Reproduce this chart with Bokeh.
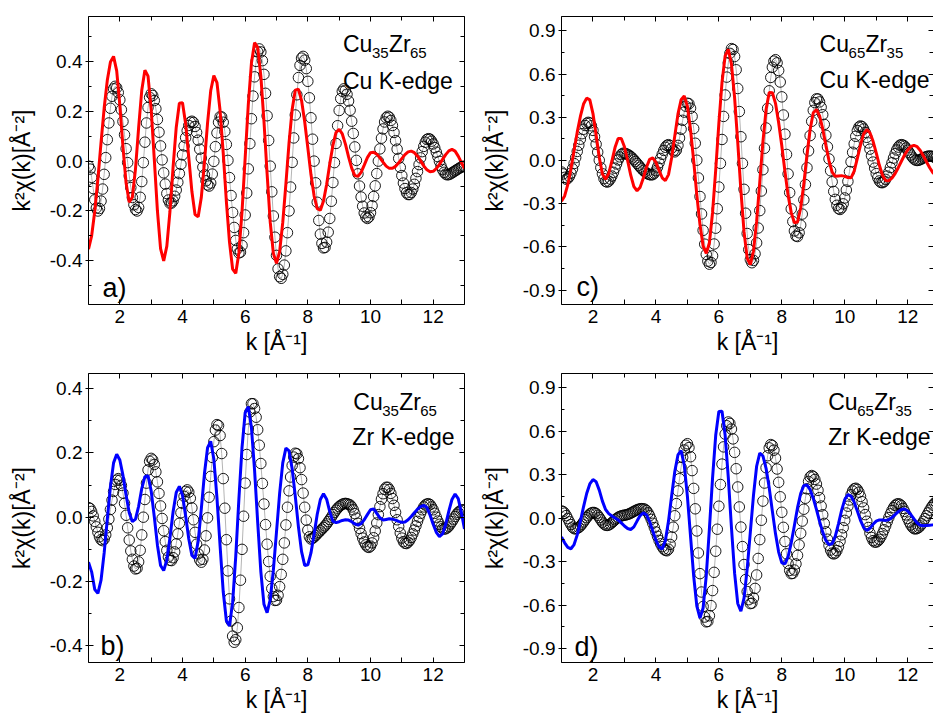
import numpy as np
from bokeh.plotting import figure
from bokeh.layouts import column, row
from bokeh.models import FixedTicker, LinearAxis, Label, Range1d, CustomJSTickFormatter
from bokeh.embed import file_html
from bokeh.resources import INLINE

FONT = "Liberation Sans"

# ---------------- data ----------------
# measured points sampled every 0.05 1/A from k = 1 to 13, fit curves every 0.1 1/A
k_circ = np.round(1.0 + 0.05 * np.arange(241), 2)
k_fit = np.round(1.0 + 0.1 * np.arange(121), 1)

a_circ = [
    -0.02, -0.032, -0.065, -0.11, -0.155, -0.188, -0.20, -0.19, -0.16, -0.112, -0.053, 0.014, 0.086, 0.153, 0.212, 0.26, 0.29, 0.30, 0.294, 0.275,
    0.246, 0.206, 0.159, 0.106, 0.05, -0.006, -0.059, -0.106, -0.146, -0.175, -0.194, -0.20, -0.186, -0.145, -0.082, -0.006, 0.076, 0.153, 0.215, 0.256,
    0.27, 0.263, 0.243, 0.21, 0.167, 0.116, 0.061, 0.005, -0.047, -0.092, -0.13, -0.156, -0.169, -0.168, -0.159, -0.141, -0.116, -0.085, -0.05, -0.013,
    0.025, 0.061, 0.094, 0.122, 0.143, 0.156, 0.16, 0.155, 0.139, 0.115, 0.084, 0.048, 0.012, -0.024, -0.055, -0.079, -0.095, -0.10, -0.088, -0.052,
    -0.001, 0.058, 0.113, 0.156, 0.178, 0.177, 0.156, 0.119, 0.067, 0.003, -0.066, -0.138, -0.206, -0.266, -0.318, -0.352, -0.368, -0.365, -0.338, -0.287,
    -0.216, -0.128, -0.031, 0.07, 0.17, 0.261, 0.338, 0.40, 0.438, 0.45, 0.438, 0.403, 0.348, 0.272, 0.182, 0.083, -0.02, -0.123, -0.22, -0.305,
    -0.378, -0.432, -0.463, -0.47, -0.454, -0.417, -0.36, -0.287, -0.20, -0.104, -0.005, 0.093, 0.185, 0.266, 0.335, 0.384, 0.413, 0.42, 0.405, 0.371,
    0.32, 0.254, 0.174, 0.088, 0.0, -0.087, -0.165, -0.238, -0.293, -0.33, -0.348, -0.346, -0.325, -0.285, -0.23, -0.161, -0.086, -0.006, 0.071, 0.142,
    0.203, 0.251, 0.28, 0.29, 0.284, 0.268, 0.241, 0.204, 0.16, 0.111, 0.057, 0.003, -0.051, -0.10, -0.144, -0.181, -0.208, -0.224, -0.23, -0.224,
    -0.207, -0.179, -0.142, -0.099, -0.05, 0.0, 0.049, 0.092, 0.129, 0.157, 0.174, 0.18, 0.176, 0.163, 0.143, 0.115, 0.082, 0.048, 0.011, -0.025,
    -0.058, -0.088, -0.11, -0.127, -0.134, -0.134, -0.126, -0.112, -0.093, -0.069, -0.042, -0.014, 0.013, 0.038, 0.059, 0.076, 0.087, 0.09, 0.088, 0.08,
    0.069, 0.054, 0.036, 0.018, -0.001, -0.019, -0.034, -0.045, -0.052, -0.055, -0.054, -0.051, -0.047, -0.043, -0.039, -0.035, -0.031, -0.027, -0.024, -0.022,
    -0.02,
]
a_fit = [
    -0.353, -0.30, -0.201, -0.071, 0.074, 0.213, 0.324, 0.398, 0.42, 0.362,
    0.225, 0.057, -0.088, -0.165, -0.145, -0.031, 0.134, 0.284, 0.365, 0.341,
    0.208, 0.007, -0.20, -0.351, -0.40, -0.341, -0.201, -0.023, 0.135, 0.232,
    0.234, 0.15, 0.015, -0.122, -0.214, -0.223, -0.146, -0.006, 0.153, 0.282,
    0.343, 0.315, 0.202, 0.032, -0.161, -0.325, -0.433, -0.45, -0.368, -0.202,
    0.013, 0.227, 0.393, 0.475, 0.456, 0.342, 0.16, -0.05, -0.245, -0.37,
    -0.41, -0.363, -0.246, -0.091, 0.073, 0.207, 0.285, 0.289, 0.243, 0.158,
    0.053, -0.054, -0.139, -0.191, -0.197, -0.16, -0.094, -0.011, 0.063, 0.115,
    0.128, 0.109, 0.068, 0.017, -0.028, -0.058, -0.061, -0.045, -0.016, 0.014,
    0.034, 0.036, 0.028, 0.013, -0.004, -0.02, -0.029, -0.029, -0.021, -0.007,
    0.01, 0.026, 0.037, 0.04, 0.034, 0.02, 0.001, -0.019, -0.035, -0.043,
    -0.041, -0.03, -0.013, 0.007, 0.026, 0.041, 0.047, 0.04, 0.02, -0.005,
    -0.03,
]

c_circ = [
    -0.08, -0.093, -0.117, -0.13, -0.125, -0.111, -0.088, -0.058, -0.021, 0.02, 0.063, 0.106, 0.148, 0.186, 0.217, 0.243, 0.258, 0.265, 0.26, 0.241,
    0.209, 0.165, 0.113, 0.058, 0.002, -0.05, -0.092, -0.126, -0.145, -0.15, -0.144, -0.129, -0.108, -0.082, -0.053, -0.024, 0.004, 0.025, 0.042, 0.05,
    0.05, 0.047, 0.042, 0.036, 0.027, 0.017, 0.005, -0.007, -0.02, -0.033, -0.046, -0.058, -0.069, -0.079, -0.087, -0.094, -0.098, -0.10, -0.098, -0.088,
    -0.071, -0.046, -0.016, 0.014, 0.043, 0.07, 0.092, 0.105, 0.11, 0.103, 0.085, 0.067, 0.06, 0.072, 0.105, 0.156, 0.217, 0.279, 0.336, 0.377,
    0.398, 0.394, 0.363, 0.306, 0.222, 0.12, 0.002, -0.121, -0.25, -0.371, -0.485, -0.581, -0.652, -0.699, -0.72, -0.708, -0.662, -0.58, -0.47, -0.335,
    -0.184, -0.02, 0.146, 0.306, 0.455, 0.579, 0.678, 0.744, 0.777, 0.771, 0.722, 0.63, 0.50, 0.34, 0.165, -0.02, -0.20, -0.366, -0.507, -0.619,
    -0.688, -0.71, -0.694, -0.648, -0.572, -0.469, -0.348, -0.212, -0.064, 0.085, 0.226, 0.362, 0.484, 0.577, 0.648, 0.69, 0.70, 0.678, 0.625, 0.545,
    0.442, 0.316, 0.183, 0.042, -0.093, -0.223, -0.336, -0.424, -0.489, -0.524, -0.528, -0.502, -0.449, -0.372, -0.273, -0.167, -0.05, 0.067, 0.173, 0.272,
    0.348, 0.402, 0.428, 0.427, 0.407, 0.37, 0.318, 0.251, 0.175, 0.095, 0.011, -0.071, -0.148, -0.215, -0.27, -0.311, -0.334, -0.34, -0.328, -0.301,
    -0.26, -0.205, -0.145, -0.077, -0.009, 0.057, 0.116, 0.168, 0.208, 0.232, 0.24, 0.235, 0.219, 0.195, 0.161, 0.122, 0.079, 0.033, -0.011, -0.053,
    -0.091, -0.12, -0.142, -0.153, -0.154, -0.147, -0.131, -0.108, -0.081, -0.049, -0.016, 0.017, 0.047, 0.073, 0.093, 0.106, 0.11, 0.107, 0.10, 0.087,
    0.072, 0.055, 0.038, 0.023, 0.01, 0.003, 0.0, 0.002, 0.006, 0.012, 0.018, 0.023, 0.027, 0.03, 0.031, 0.03, 0.027, 0.022, 0.016, 0.01,
    0.005,
]
c_fit = [
    -0.283, -0.246, -0.168, -0.057, 0.07, 0.197, 0.306, 0.392, 0.433, 0.421,
    0.326, 0.177, 0.021, -0.093, -0.13, -0.091, -0.005, 0.09, 0.152, 0.153,
    0.095, 0.001, -0.102, -0.181, -0.21, -0.185, -0.121, -0.047, 0.008, 0.018,
    -0.013, -0.069, -0.12, -0.14, -0.098, 0.019, 0.171, 0.322, 0.422, 0.448,
    0.377, 0.215, -0.002, -0.24, -0.445, -0.594, -0.645, -0.571, -0.361, -0.066,
    0.258, 0.543, 0.727, 0.772, 0.67, 0.436, 0.126, -0.207, -0.496, -0.677,
    -0.723, -0.63, -0.423, -0.15, 0.129, 0.354, 0.472, 0.471, 0.397, 0.262,
    0.102, -0.076, -0.242, -0.362, -0.432, -0.427, -0.33, -0.162, 0.04, 0.215,
    0.332, 0.354, 0.31, 0.219, 0.106, -0.002, -0.081, -0.11, -0.107, -0.105,
    -0.11, -0.118, -0.12, -0.073, 0.014, 0.107, 0.185, 0.214, 0.193, 0.133,
    0.053, -0.033, -0.102, -0.139, -0.14, -0.122, -0.091, -0.05, -0.005, 0.038,
    0.073, 0.097, 0.105, 0.096, 0.07, 0.032, -0.01, -0.05, -0.085, -0.1,
    -0.11,
]

b_circ = [
    0.03, 0.027, 0.018, 0.004, -0.013, -0.03, -0.047, -0.061, -0.07, -0.073, -0.068, -0.055, -0.033, -0.006, 0.024, 0.053, 0.08, 0.102, 0.115, 0.12,
    0.115, 0.099, 0.075, 0.043, 0.006, -0.033, -0.071, -0.105, -0.131, -0.152, -0.161, -0.159, -0.139, -0.103, -0.055, 0.0, 0.055, 0.106, 0.147, 0.174,
    0.183, 0.178, 0.164, 0.141, 0.11, 0.074, 0.035, -0.004, -0.042, -0.076, -0.103, -0.124, -0.134, -0.135, -0.126, -0.108, -0.083, -0.052, -0.019, 0.014,
    0.043, 0.065, 0.08, 0.085, 0.078, 0.059, 0.029, -0.008, -0.047, -0.084, -0.114, -0.133, -0.14, -0.131, -0.102, -0.058, -0.002, 0.062, 0.127, 0.186,
    0.235, 0.271, 0.288, 0.285, 0.254, 0.198, 0.12, 0.028, -0.07, -0.167, -0.254, -0.323, -0.37, -0.389, -0.381, -0.344, -0.281, -0.196, -0.10, 0.003,
    0.106, 0.195, 0.274, 0.327, 0.353, 0.353, 0.338, 0.311, 0.272, 0.224, 0.167, 0.105, 0.041, -0.023, -0.084, -0.138, -0.184, -0.222, -0.247, -0.259,
    -0.258, -0.243, -0.216, -0.178, -0.131, -0.08, -0.024, 0.031, 0.082, 0.125, 0.161, 0.187, 0.199, 0.197, 0.182, 0.154, 0.117, 0.075, 0.031, -0.009,
    -0.04, -0.061, -0.068, -0.066, -0.062, -0.057, -0.052, -0.047, -0.042, -0.037, -0.032, -0.027, -0.021, -0.014, -0.007, 0.0, 0.008, 0.015, 0.022, 0.028,
    0.033, 0.037, 0.04, 0.042, 0.043, 0.042, 0.04, 0.038, 0.032, 0.023, 0.011, -0.003, -0.019, -0.035, -0.051, -0.065, -0.077, -0.086, -0.092, -0.094,
    -0.09, -0.08, -0.064, -0.043, -0.018, 0.008, 0.033, 0.056, 0.073, 0.087, 0.093, 0.093, 0.086, 0.074, 0.058, 0.037, 0.015, -0.008, -0.029, -0.049,
    -0.065, -0.076, -0.081, -0.082, -0.078, -0.072, -0.063, -0.052, -0.04, -0.027, -0.013, 0.0, 0.012, 0.023, 0.032, 0.038, 0.041, 0.042, 0.039, 0.032,
    0.023, 0.012, 0.0, -0.012, -0.022, -0.03, -0.035, -0.037, -0.036, -0.033, -0.028, -0.021, -0.014, -0.006, 0.002, 0.009, 0.015, 0.019, 0.022, 0.023,
    0.022,
]
b_fit = [
    -0.14, -0.17, -0.225, -0.237, -0.196, -0.111, -0.006, 0.095, 0.169, 0.196,
    0.178, 0.13, 0.068, 0.014, -0.014, -0.006, 0.034, 0.089, 0.126, 0.129,
    0.082, 0.001, -0.087, -0.15, -0.166, -0.133, -0.064, 0.017, 0.077, 0.096,
    0.068, 0.004, -0.067, -0.119, -0.128, -0.075, 0.025, 0.135, 0.216, 0.236,
    0.181, 0.06, -0.09, -0.232, -0.322, -0.338, -0.265, -0.121, 0.057, 0.217,
    0.325, 0.344, 0.279, 0.146, -0.016, -0.169, -0.271, -0.297, -0.256, -0.165,
    -0.046, 0.074, 0.169, 0.215, 0.206, 0.151, 0.065, -0.03, -0.107, -0.15,
    -0.148, -0.111, -0.053, 0.009, 0.055, 0.073, 0.056, 0.017, -0.013, -0.017,
    -0.014, -0.01, -0.008, -0.009, -0.014, -0.021, -0.025, -0.02, -0.008, 0.008,
    0.023, 0.026, 0.012, -0.002, -0.009, -0.007, -0.005, -0.006, -0.009, -0.013,
    -0.016, -0.015, -0.008, 0.002, 0.014, 0.025, 0.033, 0.037, 0.03, 0.007,
    -0.022, -0.047, -0.06, -0.052, -0.022, 0.019, 0.055, 0.072, 0.058, 0.015,
    -0.037,
]

d_circ = [
    0.05, 0.046, 0.035, 0.018, -0.003, -0.025, -0.044, -0.062, -0.072, -0.074, -0.071, -0.064, -0.054, -0.041, -0.026, -0.011, 0.004, 0.017, 0.029, 0.036,
    0.04, 0.039, 0.032, 0.02, 0.005, -0.012, -0.028, -0.04, -0.048, -0.05, -0.047, -0.04, -0.031, -0.021, -0.011, -0.002, 0.006, 0.012, 0.016, 0.019,
    0.021, 0.023, 0.026, 0.03, 0.035, 0.041, 0.047, 0.053, 0.058, 0.062, 0.065, 0.066, 0.065, 0.062, 0.053, 0.037, 0.017, -0.008, -0.035, -0.065,
    -0.095, -0.125, -0.153, -0.177, -0.197, -0.213, -0.222, -0.225, -0.214, -0.181, -0.13, -0.062, 0.017, 0.101, 0.189, 0.273, 0.352, 0.42, 0.471, 0.504,
    0.515, 0.488, 0.425, 0.329, 0.206, 0.065, -0.088, -0.24, -0.383, -0.51, -0.61, -0.683, -0.716, -0.713, -0.674, -0.604, -0.50, -0.374, -0.228, -0.076,
    0.083, 0.233, 0.374, 0.493, 0.581, 0.639, 0.665, 0.655, 0.616, 0.548, 0.455, 0.342, 0.216, 0.078, -0.061, -0.196, -0.32, -0.424, -0.507, -0.563,
    -0.59, -0.587, -0.551, -0.485, -0.392, -0.278, -0.148, -0.014, 0.118, 0.243, 0.349, 0.432, 0.486, 0.509, 0.502, 0.47, 0.415, 0.34, 0.248, 0.148,
    0.041, -0.063, -0.161, -0.246, -0.314, -0.361, -0.383, -0.381, -0.358, -0.316, -0.257, -0.184, -0.104, -0.02, 0.062, 0.138, 0.203, 0.254, 0.285, 0.295,
    0.288, 0.268, 0.236, 0.193, 0.142, 0.084, 0.024, -0.036, -0.094, -0.145, -0.188, -0.22, -0.241, -0.247, -0.241, -0.224, -0.197, -0.159, -0.115, -0.066,
    -0.015, 0.036, 0.083, 0.126, 0.162, 0.188, 0.203, 0.207, 0.199, 0.18, 0.151, 0.114, 0.071, 0.025, -0.021, -0.064, -0.103, -0.133, -0.155, -0.165,
    -0.165, -0.158, -0.146, -0.128, -0.106, -0.08, -0.053, -0.024, 0.004, 0.03, 0.053, 0.073, 0.088, 0.097, 0.10, 0.096, 0.086, 0.068, 0.047, 0.023,
    -0.002, -0.026, -0.047, -0.062, -0.072, -0.074, -0.071, -0.064, -0.053, -0.039, -0.022, -0.003, 0.017, 0.037, 0.056, 0.074, 0.09, 0.103, 0.113, 0.12,
    0.124,
]
d_fit = [
    -0.13, -0.17, -0.202, -0.211, -0.182, -0.115, -0.022, 0.079, 0.171, 0.237,
    0.267, 0.252, 0.194, 0.118, 0.06, 0.032, 0.015, 0.002, -0.012, -0.032,
    -0.054, -0.071, -0.078, -0.06, -0.02, 0.018, 0.037, 0.023, -0.023, -0.088,
    -0.152, -0.198, -0.212, -0.156, -0.02, 0.155, 0.323, 0.437, 0.467, 0.368,
    0.152, -0.125, -0.40, -0.607, -0.69, -0.62, -0.396, -0.071, 0.279, 0.573,
    0.738, 0.739, 0.573, 0.28, -0.064, -0.38, -0.589, -0.643, -0.552, -0.35,
    -0.096, 0.158, 0.359, 0.45, 0.43, 0.345, 0.21, 0.049, -0.108, -0.234,
    -0.308, -0.316, -0.266, -0.17, -0.05, 0.073, 0.171, 0.226, 0.229, 0.197,
    0.137, 0.061, -0.022, -0.096, -0.153, -0.183, -0.176, -0.124, -0.039, 0.054,
    0.129, 0.163, 0.153, 0.111, 0.049, -0.015, -0.064, -0.085, -0.07, -0.042,
    -0.02, -0.012, -0.013, -0.015, -0.01, 0.005, 0.025, 0.045, 0.06, 0.064,
    0.05, 0.025, -0.005, -0.033, -0.048, -0.052, -0.05, -0.048, -0.046, -0.045,
    -0.044,
]

# ---------------- ticks ----------------
x_major = [2, 4, 6, 8, 10, 12]
x_minor = [1, 3, 5, 7, 9, 11, 13]
x_labels = ["2", "4", "6", "8", "10", "12"]
y_major_small = [-0.4, -0.2, 0.0, 0.2, 0.4]
y_minor_small = [-0.5, -0.3, -0.1, 0.1, 0.3, 0.5]
y_labels_small = ["-0.4", "-0.2", "0.0", "0.2", "0.4"]
y_major_big = [-0.9, -0.6, -0.3, 0.0, 0.3, 0.6, 0.9]
y_minor_big = [-0.75, -0.45, -0.15, 0.15, 0.45, 0.75]
y_labels_big = ["-0.9", "-0.6", "-0.3", "0.0", "0.3", "0.6", "0.9"]

X_LABEL = "k [Å⁻¹]"
Y_LABEL = "k²χ(k)[Å⁻²]"


def label_fmt(ticks, labels):
    return CustomJSTickFormatter(
        args=dict(tv=list(ticks), tl=list(labels)),
        code="""
        for (let i = 0; i < tv.length; i++) {
            if (Math.abs(tv[i] - tick) < 1e-9) { return tl[i]; }
        }
        return '';
        """,
    )


def blank_axis(ticker, show_line=True):
    ax = LinearAxis(
        ticker=ticker,
        formatter=CustomJSTickFormatter(code="return '';"),
        major_label_text_font_size="0px",
        major_label_standoff=0,
        major_tick_in=5, major_tick_out=0,
        minor_tick_in=4, minor_tick_out=0,
        axis_line_color="black" if show_line else None,
        major_tick_line_color="black", minor_tick_line_color="black",
    )
    return ax


def make_panel(width, height, mbl, mbr, mbt, mbb, x_end, y_lo, y_hi,
               ymaj, ymin, ylab, circ, fit, fit_color, right_line):
    p = figure(width=width, height=height,
               x_range=Range1d(1, x_end), y_range=Range1d(y_lo, y_hi),
               output_backend="svg", toolbar_location=None,
               min_border_left=mbl, min_border_right=mbr,
               min_border_top=mbt, min_border_bottom=mbb,
               x_axis_label=X_LABEL, y_axis_label=Y_LABEL)
    p.outline_line_color = None
    p.xgrid.visible = False
    p.ygrid.visible = False
    p.background_fill_color = "white"
    p.border_fill_color = "white"

    xt = FixedTicker(ticks=x_major, minor_ticks=x_minor)
    yt = FixedTicker(ticks=ymaj, minor_ticks=ymin)

    xa = p.xaxis[0]
    xa.ticker = xt
    xa.formatter = label_fmt(x_major, x_labels)
    xa.major_tick_in = 5
    xa.major_tick_out = 0
    xa.minor_tick_in = 5
    xa.minor_tick_out = 0
    xa.major_label_standoff = 5
    xa.axis_label_standoff = 3
    xa.major_label_text_font = FONT
    xa.major_label_text_font_size = "19px"
    xa.major_label_text_color = "black"
    xa.axis_label_text_font = FONT
    xa.axis_label_text_font_size = "23px"
    xa.axis_label_text_font_style = "normal"
    xa.axis_label_text_color = "black"
    xa.axis_line_color = "black"

    ya = p.yaxis[0]
    ya.ticker = yt
    ya.formatter = label_fmt(ymaj, ylab)
    ya.major_tick_in = 5
    ya.major_tick_out = 3
    ya.minor_tick_in = 3
    ya.minor_tick_out = 0
    ya.major_label_standoff = 3
    ya.axis_label_standoff = 12
    ya.major_label_text_font = FONT
    ya.major_label_text_font_size = "19px"
    ya.major_label_text_color = "black"
    ya.axis_label_text_font = FONT
    ya.axis_label_text_font_size = "23px"
    ya.axis_label_text_font_style = "normal"
    ya.axis_label_text_color = "black"
    ya.axis_line_color = "black"

    p.add_layout(blank_axis(FixedTicker(ticks=x_major, minor_ticks=x_minor)), "above")
    p.add_layout(blank_axis(FixedTicker(ticks=ymaj, minor_ticks=ymin), right_line), "right")

    p.line(k_circ, circ, line_color="#b4b4b4", line_width=1)
    p.scatter(k_circ, circ, marker="circle", size=10.5, fill_color=None,
              line_color="black", line_width=0.9)
    p.line(k_fit, fit, line_color=fit_color, line_width=3)
    return p


def add_text(p, x, y, text, size, xo=0, yo=0):
    p.add_layout(Label(x=x, y=y, text=text, text_font=FONT, text_font_size=size,
                       text_color="black", text_align="left", text_baseline="alphabetic",
                       x_offset=xo, y_offset=yo))


def add_formula(p, x, y, el1, sub1, el2, sub2):
    add_text(p, x, y, el1, "23px")
    add_text(p, x, y, sub1, "15px", xo=29, yo=-9)
    add_text(p, x, y, el2, "23px", xo=46)
    add_text(p, x, y, sub2, "15px", xo=67, yo=-9)


pa = make_panel(466, 360, 88, 2, 16, 56, 13.0, -0.575, 0.58,
                y_major_small, y_minor_small, y_labels_small, a_circ, a_fit, "#ff0000", True)
pc = make_panel(467, 360, 95, 0, 16, 56, 12.82, -1.0, 1.0,
                y_major_big, y_minor_big, y_labels_big, c_circ, c_fit, "#ff0000", False)
pb = make_panel(466, 358, 88, 2, 13, 56, 13.0, -0.452, 0.447,
                y_major_small, y_minor_small, y_labels_small, b_circ, b_fit, "#0000ff", True)
pd = make_panel(467, 358, 95, 0, 13, 56, 12.82, -0.997, 1.0,
                y_major_big, y_minor_big, y_labels_big, d_circ, d_fit, "#0000ff", False)

add_formula(pa, 9.12, 0.468, "Cu", "35", "Zr", "65")
add_text(pa, 9.12, 0.323, "Cu K-edge", "23px")
add_text(pa, 1.447, -0.507, "a)", "27px")

add_formula(pc, 9.2, 0.811, "Cu", "65", "Zr", "35")
add_text(pc, 9.2, 0.561, "Cu K-edge", "23px")
add_text(pc, 1.48, -0.88, "c)", "27px")

add_formula(pb, 9.45, 0.358, "Cu", "35", "Zr", "65")
add_text(pb, 9.42, 0.248, "Zr K-edge", "23px")
add_text(pb, 1.38, -0.40, "b)", "27px")

add_formula(pd, 9.475, 0.803, "Cu", "65", "Zr", "35")
add_text(pd, 9.475, 0.558, "Zr K-edge", "23px")
add_text(pd, 1.41, -0.891, "d)", "27px")

layout = column(row(pa, pc), row(pb, pd))

with open("out.html", "w") as f:
    f.write(file_html(layout, INLINE))
